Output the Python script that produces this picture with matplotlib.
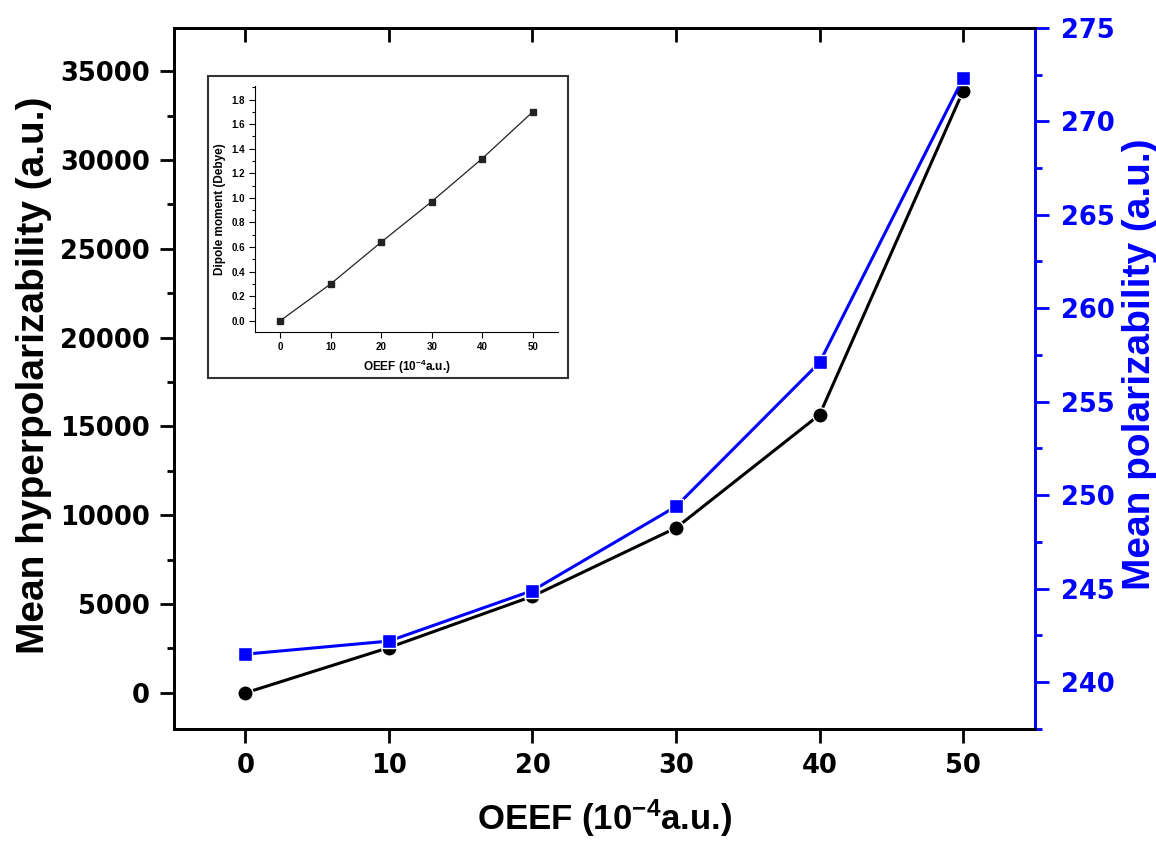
import numpy as np
import matplotlib
matplotlib.use('Agg')
import matplotlib.pyplot as plt
from matplotlib.patches import Rectangle
from matplotlib.ticker import MultipleLocator

plt.rcParams['font.family'] = ['Liberation Sans', 'DejaVu Sans']
plt.rcParams['font.weight'] = 'bold'
plt.rcParams['mathtext.default'] = 'regular'

# field strength (10^-4 a.u.)
oeef = [0, 10, 20, 30, 40, 50]
# mean first hyperpolarizability (a.u.)
beta = [0, 2550, 5440, 9290, 15660, 33890]
# mean polarizability (a.u.)
alpha = [241.5, 242.2, 244.9, 249.4, 257.1, 272.3]
# dipole moment (Debye), inset
dipole = [0.0, 0.30, 0.64, 0.97, 1.32, 1.70]

blue = '#0000ff'
tick_font = {'family': 'DejaVu Sans', 'weight': 'bold', 'size': 18.5}

fig = plt.figure(figsize=(11.56, 8.41), dpi=100)
ax = fig.add_axes([0.1501, 0.1332, 0.7452, 0.8338])

ax.plot(oeef, beta, '-o', color='black', lw=2.2, ms=11,
        mec='white', mew=1.0, zorder=3)
ax.set_xlim(-5, 55)
ax.set_ylim(-2030, 37440)
ax.set_xticks(oeef)
ax.yaxis.set_major_locator(MultipleLocator(5000))
ax.yaxis.set_minor_locator(MultipleLocator(2500))
ax.tick_params(axis='both', which='major', direction='out', length=10,
               width=2, pad=7)
ax.tick_params(axis='y', which='minor', direction='out', length=5, width=2)
for lab in ax.get_xticklabels() + ax.get_yticklabels():
    lab.set_fontproperties(tick_font)
for sp in ax.spines.values():
    sp.set_linewidth(2)

# top ticks point inward, no labels
top = ax.secondary_xaxis('top')
top.set_xticks(oeef)
top.tick_params(direction='in', length=10, width=2, labeltop=False)
top.spines['top'].set_linewidth(2)

ax.set_xlabel('OEEF (10$^{-4}$a.u.)', fontsize=25, fontweight='bold',
              va='center')
ax.xaxis.set_label_coords(0.5, -0.128)
ax.set_ylabel('Mean hyperpolarizability (a.u.)', fontsize=28,
              fontweight='bold', va='center')
ax.yaxis.set_label_coords(-0.162, 0.505)

ax2 = ax.twinx()
ax2.plot(oeef, alpha, '-s', color=blue, lw=2.2, ms=10,
         mec='white', mew=1.0, zorder=3)
ax2.set_ylim(237.5, 275)
ax2.yaxis.set_major_locator(MultipleLocator(5))
ax2.yaxis.set_minor_locator(MultipleLocator(2.5))
ax2.tick_params(axis='y', which='major', direction='out', length=10,
                width=2, colors=blue, pad=9)
ax2.tick_params(axis='y', which='minor', direction='out', length=5,
                width=2, colors=blue)
for lab in ax2.get_yticklabels():
    lab.set_fontproperties(tick_font)
for sp in ax2.spines.values():
    sp.set_linewidth(2)
ax2.spines['right'].set_color(blue)
ax2.set_ylabel('Mean polarizability (a.u.)', fontsize=28, fontweight='bold',
               color=blue, va='center')
ax2.yaxis.set_label_coords(1.122, 0.52)

# inset: dipole moment
fig.patches.append(Rectangle((0.1799, 0.5505), 0.3114, 0.3591,
                             transform=fig.transFigure, fill=False,
                             edgecolor='#333333', lw=1.5, zorder=5))
ins = fig.add_axes([0.2206, 0.6052, 0.2621, 0.2925])
ins.plot(oeef, dipole, '-s', color='#222222', lw=0.9, ms=4.5)
ins.set_xlim(-5, 55)
ins.set_ylim(-0.092, 1.91)
ins.set_xticks(oeef)
ins.yaxis.set_major_locator(MultipleLocator(0.2))
ins.yaxis.set_minor_locator(MultipleLocator(0.1))
ins.tick_params(axis='both', which='major', direction='out', length=4,
                width=0.8, labelsize=7, pad=3)
ins.tick_params(axis='y', which='minor', direction='out', length=2,
                width=0.8)
ins.spines['top'].set_visible(False)
ins.spines['right'].set_visible(False)
ins.set_xlabel('OEEF (10$^{-4}$a.u.)', fontsize=8.5, fontweight='bold')
ins.set_ylabel('Dipole moment (Debye)', fontsize=8.5, fontweight='bold')
ins.yaxis.set_major_formatter(plt.FormatStrFormatter('%.1f'))

fig.savefig('out.png', dpi=100)
